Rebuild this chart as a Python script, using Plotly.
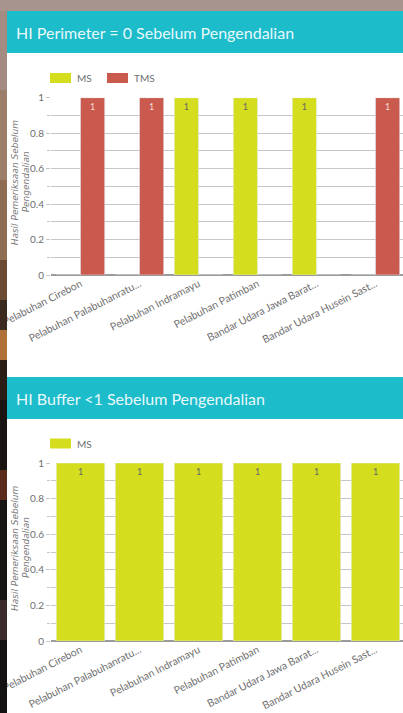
import plotly.graph_objects as go

# ---- data ----
categories = [
    "Pelabuhan Cirebon",
    "Pelabuhan Palabuhanratu...",
    "Pelabuhan Indramayu",
    "Pelabuhan Patimban",
    "Bandar Udara Jawa Barat...",
    "Bandar Udara Husein Sast...",
]
series_names = ["MS", "TMS"]
perimeter_ms = [0, 0, 1, 1, 1, 0]
perimeter_tms = [1, 1, 0, 0, 0, 1]
buffer_ms = [1, 1, 1, 1, 1, 1]

titles = ["HI Perimeter = 0 Sebelum Pengendalian", "HI Buffer <1 Sebelum Pengendalian"]
y_title_lines = ["Hasil Pemeriksaan Sebelum", "Pengendalian"]
y_ticks = [0, 0.2, 0.4, 0.6, 0.8, 1]
y_ticktext = ["0", "0.2", "0.4", "0.6", "0.8", "1"]

# ---- styling ----
W, H = 403, 713
FONT = "Lato"
MS_COLOR = "#d5dd1f"
TMS_COLOR = "#c95a4d"
HEADER = "#1cbccb"
GRID = "#c6c6c6"
TEXT = "#6e6e6e"


def px(x):
    return x / W


def py(y):
    return 1 - y / H


def labels(values):
    return [str(v) if v else "" for v in values]


fig = go.Figure()

fig.add_trace(go.Bar(x=categories, y=perimeter_ms, name=series_names[0],
                     marker_color=MS_COLOR, text=labels(perimeter_ms),
                     textposition="inside", insidetextanchor="end",
                     textfont=dict(size=9, color="#666", family=FONT),
                     xaxis="x", yaxis="y", showlegend=False))
fig.add_trace(go.Bar(x=categories, y=perimeter_tms, name=series_names[1],
                     marker_color=TMS_COLOR, text=labels(perimeter_tms),
                     textposition="inside", insidetextanchor="end",
                     textfont=dict(size=9, color="#f4dcd8", family=FONT),
                     xaxis="x", yaxis="y", showlegend=False))
fig.add_trace(go.Bar(x=categories, y=buffer_ms, name=series_names[0],
                     marker_color=MS_COLOR, text=labels(buffer_ms),
                     textposition="inside", insidetextanchor="end",
                     textfont=dict(size=9, color="#666", family=FONT),
                     xaxis="x2", yaxis="y2", showlegend=False))

x_dom = [px(51), 1]
x_range = [-0.5, 5.466]

common_x = dict(type="category", range=x_range, domain=x_dom, showgrid=False,
                showline=False, zeroline=False, ticks="", tickangle=-27,
                tickfont=dict(size=10.5, color=TEXT, family=FONT), automargin=False)
common_y = dict(range=[0, 1], tickvals=y_ticks, ticktext=y_ticktext,
                showgrid=True, gridcolor=GRID, gridwidth=1.2,
                minor=dict(dtick=0.1, showgrid=True, gridcolor=GRID, gridwidth=1.2,
                           ticks="outside", ticklen=3, tickcolor=GRID),
                ticks="outside", ticklen=4, tickcolor=GRID,
                zeroline=True, zerolinecolor="#9b9b9b", zerolinewidth=1.5,
                tickfont=dict(size=10, color=TEXT, family=FONT), automargin=False)

fig.update_layout(
    width=W, height=H,
    margin=dict(l=0, r=0, t=0, b=0),
    paper_bgcolor="white", plot_bgcolor="white",
    barmode="group", bargap=0.18, bargroupgap=0,
    font=dict(family=FONT),
    xaxis=dict(common_x, anchor="y"),
    yaxis=dict(common_y, domain=[py(275), py(97.7)], anchor="x"),
    xaxis2=dict(common_x, anchor="y2"),
    yaxis2=dict(common_y, domain=[py(641), py(463)], anchor="x2"),
)

shapes = []
annotations = []

# card headers with titles
for (top, bottom), title in zip([(11, 53), (377, 419)], titles):
    shapes.append(dict(type="rect", xref="paper", yref="paper",
                       x0=px(7), x1=1, y0=py(bottom), y1=py(top),
                       fillcolor=HEADER, line_width=0, layer="below"))
    annotations.append(dict(xref="paper", yref="paper", x=px(14), y=py((top + bottom) / 2),
                            text=title, showarrow=False, xanchor="left", yanchor="middle",
                            font=dict(size=16, color="rgba(255,255,255,0.92)", family=FONT)))

# legends
legend_rows = [(78, [(series_names[0], MS_COLOR), (series_names[1], TMS_COLOR)]),
               (443.5, [(series_names[0], MS_COLOR)])]
for yc, items in legend_rows:
    x = 50
    for name, color in items:
        shapes.append(dict(type="rect", xref="paper", yref="paper",
                           x0=px(x), x1=px(x + 21), y0=py(yc + 5), y1=py(yc - 5),
                           fillcolor=color, line_width=0))
        annotations.append(dict(xref="paper", yref="paper", x=px(x + 25), y=py(yc),
                                text=name, showarrow=False, xanchor="left", yanchor="middle",
                                font=dict(size=10, color=TEXT, family=FONT)))
        x += 57

# rotated y-axis titles, one annotation per line
for yc in [(97.7 + 275) / 2 - 4, (463 + 641) / 2 - 4]:
    for xc, line in zip([15, 26], y_title_lines):
        annotations.append(dict(xref="paper", yref="paper", x=px(xc), y=py(yc),
                                text=f"<i>{line}</i>", showarrow=False, textangle=-90,
                                xanchor="center", yanchor="middle",
                                font=dict(size=9, color="#7a7a7a", family="DejaVu Sans")))

# backdrop around the card
backdrop = [
    (0, 0, 403, 11, "#a8948f"),
    (0, 11, 7, 90, "#a48c82"),
    (0, 90, 7, 180, "#9d7e6a"),
    (0, 180, 7, 260, "#8f6d52"),
    (0, 260, 7, 300, "#6b4a33"),
    (0, 300, 7, 330, "#3a2a20"),
    (0, 330, 7, 360, "#b0703a"),
    (0, 360, 7, 400, "#2a1d16"),
    (0, 400, 7, 470, "#1a1513"),
    (0, 470, 7, 500, "#5a2a1a"),
    (0, 500, 7, 600, "#181414"),
    (0, 600, 7, 640, "#3a2a2a"),
    (0, 640, 7, 713, "#141212"),
]
for x0, y0, x1, y1, c in backdrop:
    shapes.append(dict(type="rect", xref="paper", yref="paper",
                       x0=px(x0), x1=px(x1), y0=py(y1), y1=py(y0),
                       fillcolor=c, line_width=0, layer="above"))

fig.update_layout(shapes=shapes, annotations=annotations)

fig.write_html("out.html")
